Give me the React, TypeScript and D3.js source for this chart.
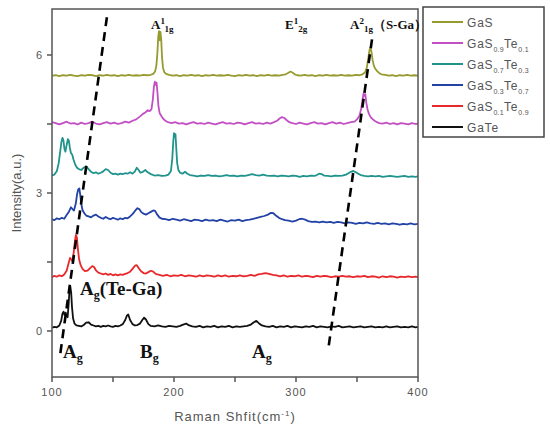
import * as d3 from "d3"

type Pt = [number, number]

// spectra: [Raman shift (cm-1), intensity (a.u., offset)]
const gasData: Pt[] = [
  [100, 5.55], [103, 5.56], [106, 5.54], [109, 5.56], [112, 5.55], [115, 5.57], [118, 5.55], [121, 5.54], [124, 5.56], [127, 5.55],
  [130, 5.57], [133, 5.56], [136, 5.54], [139, 5.56], [142, 5.55], [145, 5.57], [148, 5.55], [151, 5.56], [154, 5.54], [157, 5.56],
  [160, 5.55], [163, 5.57], [166, 5.55], [169, 5.56], [172, 5.55], [175, 5.57], [178, 5.56], [181, 5.57], [183, 5.59], [184.5, 5.64],
  [185.6, 5.78], [186.4, 6.05], [187.1, 6.4], [187.7, 6.52], [188.3, 6.32], [188.9, 6.5], [189.5, 6.35], [190.2, 5.95], [191, 5.72],
  [192, 5.63], [193.5, 5.59], [196, 5.57], [199, 5.55], [202, 5.56], [205, 5.54], [208, 5.56], [211, 5.55], [214, 5.57], [217, 5.55],
  [220, 5.56], [223, 5.54], [226, 5.56], [229, 5.55], [232, 5.57], [235, 5.55], [238, 5.56], [241, 5.55], [244, 5.57], [247, 5.55],
  [250, 5.54], [253, 5.56], [256, 5.55], [259, 5.57], [262, 5.55], [265, 5.56], [268, 5.54], [271, 5.56], [274, 5.55], [277, 5.57],
  [280, 5.55], [283, 5.56], [286, 5.55], [289, 5.57], [291.5, 5.58], [293.5, 5.61], [295.5, 5.64], [297, 5.62], [299, 5.58], [301, 5.56],
  [304, 5.55], [307, 5.57], [310, 5.55], [313, 5.56], [316, 5.54], [319, 5.56], [322, 5.55], [325, 5.57], [328, 5.55], [331, 5.56],
  [334, 5.55], [337, 5.57], [340, 5.55], [343, 5.56], [346, 5.55], [349, 5.57], [352, 5.56], [354.5, 5.58], [356.5, 5.62], [358, 5.72],
  [359.2, 5.92], [360.2, 6.1], [361, 6.16], [361.8, 6.08], [362.7, 5.9], [363.8, 5.77], [365, 5.7], [366.5, 5.65], [368, 5.61],
  [370, 5.58], [373, 5.57], [376, 5.55], [379, 5.56], [382, 5.54], [385, 5.56], [388, 5.55], [391, 5.57], [394, 5.55], [397, 5.56], [400, 5.55],
]

const gas09Data: Pt[] = [
  [100, 4.54], [103, 4.52], [106, 4.49], [109, 4.52], [112, 4.55], [115, 4.51], [118, 4.52], [121, 4.49], [124, 4.53], [127, 4.5],
  [130, 4.52], [133, 4.55], [136, 4.51], [139, 4.49], [142, 4.52], [145, 4.54], [148, 4.51], [151, 4.53], [154, 4.5], [157, 4.52],
  [160, 4.55], [163, 4.53], [166, 4.57], [169, 4.6], [172, 4.66], [174.5, 4.72], [176.5, 4.75], [178.5, 4.8], [180, 4.78], [181.5, 4.82],
  [182.6, 5.02], [183.5, 5.3], [184.3, 5.42], [185, 5.35], [185.7, 5.4], [186.4, 5.2], [187.2, 4.9], [188.2, 4.74], [189.5, 4.68],
  [191, 4.62], [193, 4.57], [195, 4.54], [198, 4.52], [201, 4.54], [204, 4.51], [207, 4.52], [210, 4.49], [213, 4.52], [216, 4.54],
  [219, 4.51], [222, 4.52], [225, 4.5], [228, 4.53], [231, 4.51], [234, 4.49], [237, 4.52], [240, 4.54], [243, 4.51], [246, 4.52],
  [249, 4.5], [252, 4.53], [255, 4.52], [258, 4.49], [261, 4.52], [264, 4.54], [267, 4.51], [270, 4.52], [273, 4.5], [276, 4.53],
  [279, 4.51], [282, 4.54], [284.5, 4.57], [286.5, 4.62], [288.5, 4.65], [290.5, 4.63], [292.5, 4.58], [294.5, 4.54], [297, 4.52],
  [300, 4.5], [303, 4.53], [306, 4.51], [309, 4.49], [312, 4.52], [315, 4.54], [318, 4.51], [321, 4.52], [324, 4.49], [327, 4.52],
  [330, 4.54], [333, 4.51], [336, 4.53], [339, 4.5], [342, 4.52], [345, 4.54], [348, 4.55], [350, 4.6], [352, 4.68], [353.5, 4.84],
  [354.5, 5.02], [355.3, 5.16], [356, 5.11], [356.8, 5.15], [357.6, 4.97], [358.6, 4.82], [359.8, 4.72], [361.2, 4.65], [363, 4.6],
  [365, 4.56], [368, 4.52], [371, 4.51], [374, 4.53], [377, 4.5], [380, 4.52], [383, 4.49], [386, 4.52], [389, 4.51], [392, 4.49],
  [395, 4.52], [398, 4.5], [400, 4.51],
]

const gas07Data: Pt[] = [
  [100, 3.38], [102, 3.4], [104, 3.48], [105.5, 3.65], [106.8, 3.92], [107.8, 4.12], [108.6, 4.2], [109.4, 4.14], [110.2, 3.96],
  [111, 3.9], [112, 4.04], [113, 4.17], [113.8, 4.14], [114.6, 3.99], [115.5, 3.87], [116.6, 3.83], [117.6, 3.73], [119, 3.62],
  [120.5, 3.55], [122, 3.52], [124, 3.5], [126, 3.55], [128, 3.58], [130, 3.52], [132, 3.46], [134, 3.43], [136, 3.45], [138, 3.42],
  [140, 3.44], [142, 3.47], [144, 3.52], [146, 3.5], [148, 3.44], [150, 3.41], [152, 3.42], [154, 3.4], [156, 3.42], [158, 3.41],
  [160, 3.43], [162, 3.42], [164, 3.45], [166, 3.42], [168, 3.47], [169.5, 3.55], [171, 3.5], [172.5, 3.44], [174.5, 3.46],
  [176.5, 3.5], [178.5, 3.45], [181, 3.41], [184, 3.38], [187, 3.39], [190, 3.37], [193, 3.38], [195.5, 3.4], [197.5, 3.48],
  [198.6, 3.75], [199.4, 4.12], [200, 4.3], [200.6, 4.22], [201.2, 4.28], [201.8, 4.0], [202.6, 3.65], [203.6, 3.5], [205, 3.44],
  [207, 3.42], [209, 3.46], [211, 3.42], [213, 3.39], [216, 3.38], [219, 3.36], [222, 3.38], [225, 3.37], [228, 3.39], [231, 3.37],
  [234, 3.38], [237, 3.36], [240, 3.37], [243, 3.39], [246, 3.37], [249, 3.38], [252, 3.36], [255, 3.38], [258, 3.37], [261, 3.39],
  [264, 3.41], [267, 3.39], [270, 3.38], [273, 3.4], [276, 3.38], [279, 3.37], [282, 3.38], [285, 3.36], [288, 3.38], [291, 3.37],
  [294, 3.36], [297, 3.38], [300, 3.37], [303, 3.35], [306, 3.37], [309, 3.36], [312, 3.38], [315, 3.37], [317, 3.39], [319, 3.42],
  [321, 3.41], [323, 3.38], [326, 3.37], [329, 3.36], [332, 3.38], [335, 3.37], [338, 3.38], [341, 3.4], [343, 3.43], [345, 3.46],
  [347, 3.48], [349, 3.45], [351, 3.42], [353, 3.39], [356, 3.37], [359, 3.36], [362, 3.37], [365, 3.36], [368, 3.37], [371, 3.35],
  [374, 3.36], [377, 3.37], [380, 3.36], [383, 3.35], [386, 3.36], [389, 3.37], [392, 3.35], [395, 3.36], [398, 3.35], [400, 3.36],
]

const gas03Data: Pt[] = [
  [100, 2.43], [102, 2.41], [104, 2.45], [106, 2.43], [108, 2.46], [110, 2.44], [112, 2.52], [114, 2.6], [115.5, 2.69], [116.8, 2.65],
  [118, 2.62], [119.5, 2.77], [120.6, 2.98], [121.5, 3.08], [122.4, 3.1], [123.2, 2.95], [124, 2.76], [125, 2.63], [126.5, 2.56],
  [128, 2.51], [130, 2.49], [132, 2.47], [134, 2.51], [136, 2.53], [138, 2.49], [140, 2.46], [142, 2.44], [144, 2.48], [146, 2.45],
  [148, 2.43], [150, 2.46], [152, 2.44], [154, 2.42], [156, 2.45], [158, 2.43], [160, 2.46], [162, 2.45], [164, 2.49], [166, 2.54],
  [168, 2.61], [170, 2.67], [171.5, 2.65], [173, 2.59], [175, 2.55], [177, 2.53], [179, 2.56], [181, 2.59], [183, 2.62], [184.5, 2.61],
  [186, 2.54], [188, 2.47], [190, 2.44], [193, 2.43], [196, 2.41], [199, 2.44], [202, 2.42], [205, 2.4], [208, 2.43], [211, 2.41],
  [214, 2.39], [217, 2.42], [220, 2.41], [223, 2.39], [226, 2.42], [229, 2.4], [232, 2.41], [235, 2.39], [238, 2.42], [241, 2.4],
  [244, 2.38], [247, 2.41], [250, 2.4], [253, 2.42], [256, 2.39], [259, 2.41], [262, 2.42], [265, 2.44], [268, 2.46], [271, 2.48],
  [274, 2.5], [277, 2.53], [279.5, 2.57], [281.5, 2.56], [283.5, 2.51], [286, 2.46], [288.5, 2.43], [291, 2.41], [294, 2.4],
  [297, 2.38], [300, 2.4], [302.5, 2.43], [305, 2.44], [307.5, 2.42], [310, 2.39], [313, 2.37], [316, 2.38], [319, 2.36], [322, 2.38],
  [325, 2.36], [328, 2.37], [331, 2.35], [334, 2.37], [337, 2.36], [340, 2.34], [343, 2.36], [346, 2.35], [349, 2.33], [352, 2.35],
  [355, 2.34], [358, 2.36], [361, 2.34], [364, 2.33], [367, 2.35], [370, 2.33], [373, 2.34], [376, 2.32], [379, 2.34], [382, 2.33],
  [385, 2.31], [388, 2.33], [391, 2.32], [394, 2.34], [397, 2.32], [400, 2.33],
]

const gas01Data: Pt[] = [
  [100, 1.17], [102, 1.2], [104, 1.18], [106, 1.21], [108, 1.19], [110, 1.23], [112, 1.31], [113.5, 1.46], [114.8, 1.59], [115.8, 1.56],
  [116.8, 1.51], [117.8, 1.71], [118.8, 1.96], [119.6, 2.09], [120.4, 2.03], [121.2, 1.79], [122.2, 1.56], [123.5, 1.43], [125, 1.35],
  [127, 1.3], [129, 1.31], [131, 1.36], [133, 1.41], [134.5, 1.39], [136, 1.32], [138, 1.27], [140, 1.25], [142, 1.23], [144, 1.25],
  [146, 1.22], [148, 1.24], [150, 1.21], [152, 1.23], [154, 1.21], [156, 1.23], [158, 1.22], [160, 1.24], [162, 1.26], [164, 1.29],
  [166, 1.35], [168, 1.42], [169.5, 1.43], [171, 1.37], [173, 1.3], [175, 1.26], [177, 1.25], [179, 1.28], [181, 1.31], [183, 1.29],
  [185, 1.24], [188, 1.22], [191, 1.2], [194, 1.22], [197, 1.19], [200, 1.21], [203, 1.2], [206, 1.22], [209, 1.19], [212, 1.21],
  [215, 1.2], [218, 1.18], [221, 1.21], [224, 1.19], [227, 1.21], [230, 1.2], [233, 1.18], [236, 1.21], [239, 1.19], [242, 1.21],
  [245, 1.18], [248, 1.2], [251, 1.19], [254, 1.21], [257, 1.19], [260, 1.2], [263, 1.22], [266, 1.2], [269, 1.23], [272, 1.24],
  [275, 1.26], [278, 1.24], [281, 1.22], [284, 1.21], [287, 1.19], [290, 1.21], [293, 1.18], [296, 1.2], [299, 1.19], [302, 1.21],
  [305, 1.18], [308, 1.2], [311, 1.19], [314, 1.17], [317, 1.2], [320, 1.18], [323, 1.2], [326, 1.19], [329, 1.17], [332, 1.19],
  [335, 1.18], [338, 1.2], [341, 1.18], [344, 1.19], [347, 1.17], [350, 1.19], [353, 1.18], [356, 1.2], [359, 1.17], [362, 1.19],
  [365, 1.18], [368, 1.16], [371, 1.19], [374, 1.17], [377, 1.19], [380, 1.18], [383, 1.16], [386, 1.18], [389, 1.17], [392, 1.19],
  [395, 1.17], [398, 1.18], [400, 1.17],
]

const gateData: Pt[] = [
  [100, 0.07], [102, 0.09], [104, 0.08], [106, 0.12], [107.5, 0.22], [108.6, 0.38], [109.5, 0.42], [110.3, 0.35], [111.2, 0.4],
  [112, 0.32], [112.8, 0.3], [113.6, 0.57], [114.3, 0.87], [115, 0.97], [115.7, 0.84], [116.4, 0.52], [117.3, 0.27], [118.5, 0.16],
  [120, 0.12], [122, 0.11], [124, 0.1], [126, 0.13], [128, 0.18], [130, 0.19], [132, 0.14], [134, 0.12], [136, 0.1], [138, 0.11],
  [140, 0.09], [142, 0.11], [144, 0.1], [146, 0.12], [148, 0.1], [150, 0.09], [152, 0.11], [154, 0.1], [156, 0.12], [158, 0.15],
  [160, 0.24], [161.5, 0.34], [162.5, 0.36], [164, 0.24], [166, 0.15], [168, 0.12], [170, 0.13], [172, 0.16], [174, 0.24],
  [175.5, 0.29], [177, 0.25], [179, 0.15], [181, 0.11], [184, 0.1], [187, 0.12], [190, 0.1], [193, 0.09], [196, 0.11], [199, 0.1],
  [202, 0.09], [205, 0.11], [207.5, 0.14], [210, 0.16], [212.5, 0.12], [215, 0.1], [218, 0.09], [221, 0.11], [224, 0.08], [227, 0.1],
  [230, 0.09], [233, 0.11], [236, 0.08], [239, 0.1], [242, 0.09], [245, 0.11], [248, 0.08], [251, 0.1], [254, 0.09], [257, 0.1],
  [260, 0.11], [263, 0.14], [265.5, 0.19], [267.5, 0.22], [269.5, 0.17], [272, 0.12], [275, 0.1], [278, 0.09], [281, 0.11],
  [284, 0.08], [287, 0.1], [290, 0.09], [293, 0.11], [296, 0.08], [299, 0.1], [302, 0.09], [305, 0.08], [308, 0.1], [311, 0.09],
  [314, 0.11], [317, 0.08], [320, 0.1], [323, 0.09], [326, 0.08], [329, 0.1], [332, 0.09], [335, 0.11], [338, 0.08], [341, 0.09],
  [344, 0.1], [347, 0.08], [350, 0.09], [353, 0.1], [356, 0.08], [359, 0.09], [362, 0.1], [365, 0.08], [368, 0.09], [371, 0.08],
  [374, 0.1], [377, 0.08], [380, 0.09], [383, 0.1], [386, 0.08], [389, 0.09], [392, 0.08], [395, 0.1], [398, 0.08], [400, 0.09],
]

// dashed guide lines (Te-Ga and S-Ga A_g mode shifts)
const teGaGuide: Pt[] = [[145, 6.82], [106.5, -0.55]]
const sGaGuide: Pt[] = [[362.3, 6.34], [326.2, -0.44]]

// legend labels: even index = normal text, odd index = subscript
const legendParts = [
  ["GaS"],
  ["GaS", "0.9", "Te", "0.1"],
  ["GaS", "0.7", "Te", "0.3"],
  ["GaS", "0.3", "Te", "0.7"],
  ["GaS", "0.1", "Te", "0.9"],
  ["GaTe"],
]
const seriesColors = ["#979a2e", "#c24fc4", "#20938d", "#2342a6", "#e8282b", "#111111"]
const seriesData = [gasData, gas09Data, gas07Data, gas03Data, gas01Data, gateData]

const xMajor = [100, 200, 300, 400]
const xMinor = [150, 250, 350]
const yMajor = [0, 3, 6]
const yMinor = [1.5, 4.5]

const width = 550
const height = 431
const margin = { top: 9, right: 132, bottom: 54, left: 52 }

export default function App() {
  const x = d3.scaleLinear().domain([100, 400]).range([margin.left, width - margin.right])
  const y = d3.scaleLinear().domain([-1, 7]).range([height - margin.bottom, margin.top])
  const line = d3
    .line<Pt>()
    .x((d) => x(d[0]))
    .y((d) => y(d[1]))

  const x0 = x.range()[0]
  const x1 = x.range()[1]
  const y0 = y.range()[0]
  const y1 = y.range()[1]
  const axisColor = "#555"
  const serif = "'Liberation Serif', 'Times New Roman', serif"
  const sans = "'Liberation Sans', Arial, sans-serif"

  return (
    <svg
      width={width}
      height={height}
      style={{ position: "absolute", left: 0, top: 0, background: "#fff" }}
    >
      <defs>
        <clipPath id="plot-clip">
          <rect x={x0} y={y1} width={x1 - x0} height={y0 - y1} />
        </clipPath>
      </defs>

      {/* spectra */}
      <g clipPath="url(#plot-clip)">
        {seriesData.map((d, i) => (
          <path key={i} d={line(d) || ""} fill="none" stroke={seriesColors[i]} strokeWidth={1.8} strokeLinejoin="round" />
        ))}
      </g>

      {/* dashed guides */}
      {[teGaGuide, sGaGuide].map((g, i) => (
        <path key={i} d={line(g) || ""} fill="none" stroke="#000" strokeWidth={2.6} strokeDasharray="9,6" />
      ))}

      {/* frame */}
      <rect x={x0} y={y1} width={x1 - x0} height={y0 - y1} fill="none" stroke={axisColor} strokeWidth={1.5} />

      {/* x ticks */}
      {xMajor.concat(xMinor).map((t) => (
        <line key={"xt" + t} x1={x(t)} x2={x(t)} y1={y0} y2={y0 + 5} stroke={axisColor} strokeWidth={1.5} />
      ))}
      {xMajor.map((t) => (
        <text key={"xl" + t} x={x(t)} y={y0 + 19} textAnchor="middle" fontFamily={sans} fontSize={11} fill="#555" letterSpacing={1}>
          {t}
        </text>
      ))}

      {/* y ticks */}
      {yMajor.concat(yMinor).map((t) => (
        <line key={"yt" + t} x1={x0 - 5} x2={x0} y1={y(t)} y2={y(t)} stroke={axisColor} strokeWidth={1.5} />
      ))}
      {yMajor.map((t) => (
        <text key={"yl" + t} x={x0 - 10} y={y(t) + 4} textAnchor="end" fontFamily={sans} fontSize={11} fill="#555">
          {t}
        </text>
      ))}

      {/* axis titles */}
      <text x={(x0 + x1) / 2} y={421} textAnchor="middle" fontFamily={sans} fontSize={13} fill="#555" letterSpacing={1}>
        Raman Shfit(cm
        <tspan dy={-5} fontSize={8}>-1</tspan>
        <tspan dy={5}>)</tspan>
      </text>
      <text
        transform={`translate(21,${(y0 + y1) / 2}) rotate(-90)`}
        textAnchor="middle"
        fontFamily={sans}
        fontSize={13}
        fill="#555"
      >
        Intensity(a.u.)
      </text>

      {/* mode labels, top */}
      <g fontFamily={serif} fontWeight="bold" fill="#111">
        <text x={151} y={29} fontSize={13}>
          A<tspan dy={-5} fontSize={9}>1</tspan>
          <tspan dy={8} fontSize={9}>1g</tspan>
        </text>
        <text x={285} y={29} fontSize={13}>
          E<tspan dy={-5} fontSize={9}>1</tspan>
          <tspan dy={8} fontSize={9}>2g</tspan>
        </text>
        <text x={350} y={29} fontSize={13}>
          A<tspan dy={-5} fontSize={9}>2</tspan>
          <tspan dy={8} fontSize={9}>1g</tspan>
          <tspan dy={-3} fontSize={13}>（S-Ga）</tspan>
        </text>

        {/* mode labels, bottom */}
        <text x={80} y={295} fontSize={19}>
          A<tspan dy={4} fontSize={12}>g</tspan>
          <tspan dy={-4}>(Te-Ga)</tspan>
        </text>
        <text x={63} y={358} fontSize={19}>
          A<tspan dy={4} fontSize={12}>g</tspan>
        </text>
        <text x={140} y={358} fontSize={19}>
          B<tspan dy={4} fontSize={12}>g</tspan>
        </text>
        <text x={252} y={358} fontSize={19}>
          A<tspan dy={4} fontSize={12}>g</tspan>
        </text>
      </g>

      {/* legend */}
      <g>
        <rect x={423} y={7} width={121} height={130} fill="#fff" stroke="#444" strokeWidth={1.5} />
        {legendParts.map((parts, i) => {
          const ly = 22 + i * 21
          return (
            <g key={i}>
              <line x1={432} x2={463} y1={ly} y2={ly} stroke={seriesColors[i]} strokeWidth={2} />
              <text x={467} y={ly + 4.5} fontFamily={sans} fontSize={12} fill="#555" letterSpacing={0.8}>
                {parts.map((p, j) =>
                  j % 2 === 0 ? (
                    <tspan key={j} dy={j === 0 ? 0 : -4} fontSize={12}>
                      {p}
                    </tspan>
                  ) : (
                    <tspan key={j} dy={4} fontSize={7} letterSpacing={0.3}>
                      {p}
                    </tspan>
                  ),
                )}
              </text>
            </g>
          )
        })}
      </g>
    </svg>
  )
}
